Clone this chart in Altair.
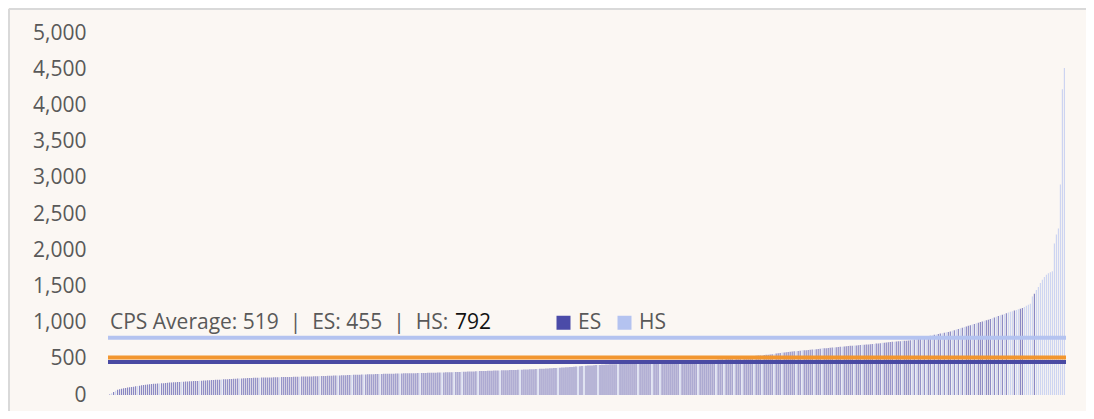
import altair as alt
import pandas as pd

# ---- data ----
es_values = [
    8, 42, 71, 78, 88, 93, 97, 103,
    106, 111, 114, 120, 127, 134, 137, 140, 146,
    148, 151, 154, 155, 158, 163, 164, 167, 169,
    171, 172, 175, 177, 178, 180, 183, 186, 188,
    189, 191, 192, 194, 195, 198, 200, 202, 203,
    204, 206, 208, 209, 210, 212, 216, 218, 219,
    220, 221, 223, 225, 227, 229, 231, 233, 234,
    235, 236, 237, 237, 238, 240, 240, 241, 242,
    242, 243, 244, 244, 245, 247, 247, 248, 249,
    249, 250, 251, 251, 252, 254, 254, 255, 256,
    256, 257, 258, 259, 260, 262, 263, 263, 265,
    266, 267, 268, 269, 271, 272, 273, 274, 275,
    276, 278, 279, 280, 281, 282, 284, 285,
    286, 287, 288, 289, 290, 291, 292, 293, 293,
    294, 295, 295, 296, 297, 298, 299, 299, 300,
    300, 301, 302, 302, 303, 304, 305, 305, 306,
    306, 307, 308, 309, 310, 311, 312, 313, 313,
    314, 315, 317, 318, 319, 321, 322, 323,
    324, 325, 326, 327, 330, 331, 332, 333, 334,
    335, 336, 337, 338, 339, 341, 341, 342, 343,
    344, 345, 346, 347, 348, 350, 351, 352, 353,
    354, 356, 357, 358, 361, 363, 364, 366, 367,
    368, 370, 372, 374, 377, 379, 381, 383, 385,
    386, 388, 391, 393, 397, 400, 404, 406,
    408, 409, 411, 413, 416, 417, 419, 421, 422,
    423, 424, 425, 426, 428, 429, 429, 430, 431,
    432, 433, 434, 435, 437, 438, 439, 440, 441,
    442, 445, 446, 447, 450, 451, 452, 453,
    454, 456, 457, 458, 459, 462, 463, 464, 465,
    466, 468, 469, 470, 473, 475, 476, 478, 479,
    480, 483, 485, 490, 492, 495, 500, 503,
    505, 508, 514, 517, 520, 526, 529, 532,
    535, 537, 542, 545, 547, 553, 555, 557,
    560, 564, 572, 575, 579, 588, 591, 594,
    598, 601, 603, 609, 611, 618, 619, 622,
    625, 628, 633, 636, 638, 645, 646, 649,
    652, 655, 660, 663, 665, 671, 673, 676,
    679, 681, 685, 687, 689, 695, 696, 698,
    700, 703, 710, 713, 716, 723, 726, 729,
    732, 734, 739, 741, 744, 749, 750, 753,
    755, 768, 781, 788, 801, 814,
    820, 831, 843, 848, 860, 871,
    877, 895, 912, 930, 947, 956,
    965, 982, 999, 1007, 1016, 1033, 1041,
    1050, 1070, 1090, 1110, 1130,
    1166, 1192, 1200,
    1399,
]

hs_values = [
    23, 57, 124, 160, 182, 197, 214, 228, 239, 246,
    253, 261, 270, 277, 283, 290, 297, 303, 311, 316,
    320, 328, 340, 349, 360, 376, 395, 402, 414, 427,
    436, 443, 448, 460, 472, 488, 498, 511, 523, 540,
    552, 568, 587, 606, 617, 630, 644, 657, 668, 683,
    694, 706, 722, 737, 748, 762, 775, 794, 807, 826,
    837, 854, 865, 886, 903, 921, 939, 973, 990, 1024,
    1060, 1080, 1100, 1120, 1140, 1150, 1158, 1175, 1183, 1215,
    1232, 1246, 1260, 1361, 1450, 1491, 1547, 1593, 1630, 1662,
    1680, 1694, 1708, 2091, 2216, 2299, 2909, 4224, 4515,
]

cps_average = 519
es_average = 455
hs_average = 792

y_ticks = [0, 500, 1000, 1500, 2000, 2500, 3000, 3500, 4000, 4500, 5000]
school_types = ["ES", "HS"]
type_colors = ["#4B4BA8", "#B4C3F0"]

SEP = "\u00a0\u00a0|\u00a0\u00a0"
label_main = "CPS Average: 519" + SEP + "ES: 455" + SEP + "HS:"
label_hs = "792"

# ---- build table ----
df = pd.DataFrame({
    "value": es_values + hs_values,
    "type": ["ES"] * len(es_values) + ["HS"] * len(hs_values),
})
df = df.sort_values("value", kind="stable").reset_index(drop=True)
df["rank"] = range(len(df))

W, H = 958, 362
FONT = "Open Sans"
GRAY = "#595959"
FS = 21

bars = alt.Chart(df).mark_bar(opacity=0.66).encode(
    x=alt.X("rank:O", axis=None,
            scale=alt.Scale(paddingInner=0.42, paddingOuter=0.5)),
    y=alt.Y("value:Q", title=None,
            scale=alt.Scale(domain=[0, 5000], nice=False)),
    color=alt.Color("type:N",
                    scale=alt.Scale(domain=school_types, range=type_colors),
                    legend=alt.Legend(orient="none", direction="horizontal",
                                      legendX=445, legendY=279, title=None,
                                      symbolType="square", symbolSize=196,
                                      symbolOpacity=1, symbolStrokeWidth=0,
                                      labelFontSize=FS, labelFont=FONT,
                                      labelColor=GRAY, labelOffset=4,
                                      columnPadding=12, padding=0)),
)

def hline(value, color):
    return alt.Chart().mark_rule(color=color, strokeWidth=4).encode(
        y=alt.YDatum(value, title=None), x=alt.value(0), x2=alt.value(W))

lines = hline(hs_average, "#B4C3F0") + hline(cps_average, "#F2962F") + hline(es_average, "#4A4AA3")

txt_main = alt.Chart().mark_text(align="left", baseline="middle", fontSize=FS,
                                 font=FONT, color=GRAY).encode(
    x=alt.value(2), y=alt.YDatum(1000, title=None), text=alt.value(label_main))
txt_hs = alt.Chart().mark_text(align="left", baseline="middle", fontSize=FS,
                               font=FONT, color="#111111").encode(
    x=alt.value(347), y=alt.YDatum(1000, title=None), text=alt.value(label_hs))

frame_top = alt.Chart().mark_rule(color="#D9D9D9", strokeWidth=2).encode(
    x=alt.value(-99), x2=alt.value(W + 20), y=alt.value(-24))
frame_left = alt.Chart().mark_rule(color="#D9D9D9", strokeWidth=2).encode(
    x=alt.value(-99), y=alt.value(-24), y2=alt.value(H + 16))

chart = alt.layer(frame_top, frame_left, bars, lines, txt_main, txt_hs).properties(
    width=W, height=H,
    autosize=alt.AutoSizeParams(type="none"),
    padding={"left": 100, "top": 25, "right": 20, "bottom": 16},
    background="#FBF7F3",
).configure_view(stroke=None).configure_axisY(
    values=y_ticks, labelExpr="format(datum.value, ',')", grid=False,
    domain=False, ticks=False, labelPadding=22, labelOverlap=False,
    labelFontSize=FS, labelColor=GRAY, labelFont=FONT,
)

chart.save("out.html", embed_options={"renderer": "svg", "actions": False})
